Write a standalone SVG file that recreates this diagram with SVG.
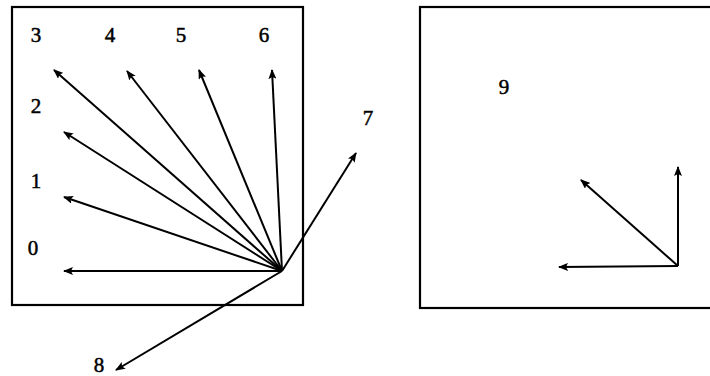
<svg xmlns="http://www.w3.org/2000/svg" width="710" height="376" viewBox="0 0 710 376">
<defs>
<marker id="ah" viewBox="0 0 10 8" refX="9" refY="4" markerWidth="5" markerHeight="4" orient="auto" markerUnits="strokeWidth">
<path d="M0,0 L10,4 L0,8 L2,4 Z" fill="#000"/>
</marker>
</defs>
<style>
.box{fill:none;stroke:#000;stroke-width:2.2}
.arr{stroke:#000;stroke-width:2;fill:none;marker-end:url(#ah)}
.lbl{font-family:"Liberation Serif","Times New Roman",serif;font-size:21px;fill:#000;stroke:#000;stroke-width:0.5}
</style>
<rect width="710" height="376" fill="#fff"/>
<g id="frame-left"><rect class="box" x="12" y="7" width="291" height="298"/></g>
<g id="frame-right"><rect class="box" x="420" y="7" width="292" height="301"/></g>
<g id="connectors">
<line class="arr" x1="282" y1="271" x2="64" y2="271"/>
<line class="arr" x1="282" y1="271" x2="64" y2="197"/>
<line class="arr" x1="282" y1="271" x2="64" y2="132"/>
<line class="arr" x1="282" y1="271" x2="54" y2="70"/>
<line class="arr" x1="282" y1="271" x2="127" y2="71"/>
<line class="arr" x1="282" y1="271" x2="199" y2="70"/>
<line class="arr" x1="282" y1="271" x2="272" y2="70"/>
<line class="arr" x1="282" y1="271" x2="356" y2="153"/>
<line class="arr" x1="282" y1="271" x2="116" y2="370"/>
<line class="arr" x1="678" y1="266" x2="678" y2="167"/>
<line class="arr" x1="678" y1="266" x2="581" y2="180"/>
<line class="arr" x1="678" y1="266" x2="559" y2="267"/>
</g>
<g id="labels">
<text class="lbl" x="36" y="42" text-anchor="middle">3</text>
<text class="lbl" x="110" y="42" text-anchor="middle">4</text>
<text class="lbl" x="181" y="42" text-anchor="middle">5</text>
<text class="lbl" x="264" y="42" text-anchor="middle">6</text>
<text class="lbl" x="36" y="113" text-anchor="middle">2</text>
<text class="lbl" x="36" y="188" text-anchor="middle">1</text>
<text class="lbl" x="33" y="255" text-anchor="middle">0</text>
<text class="lbl" x="368" y="125" text-anchor="middle">7</text>
<text class="lbl" x="99" y="372" text-anchor="middle">8</text>
<text class="lbl" x="504" y="94" text-anchor="middle">9</text>
</g>
</svg>
